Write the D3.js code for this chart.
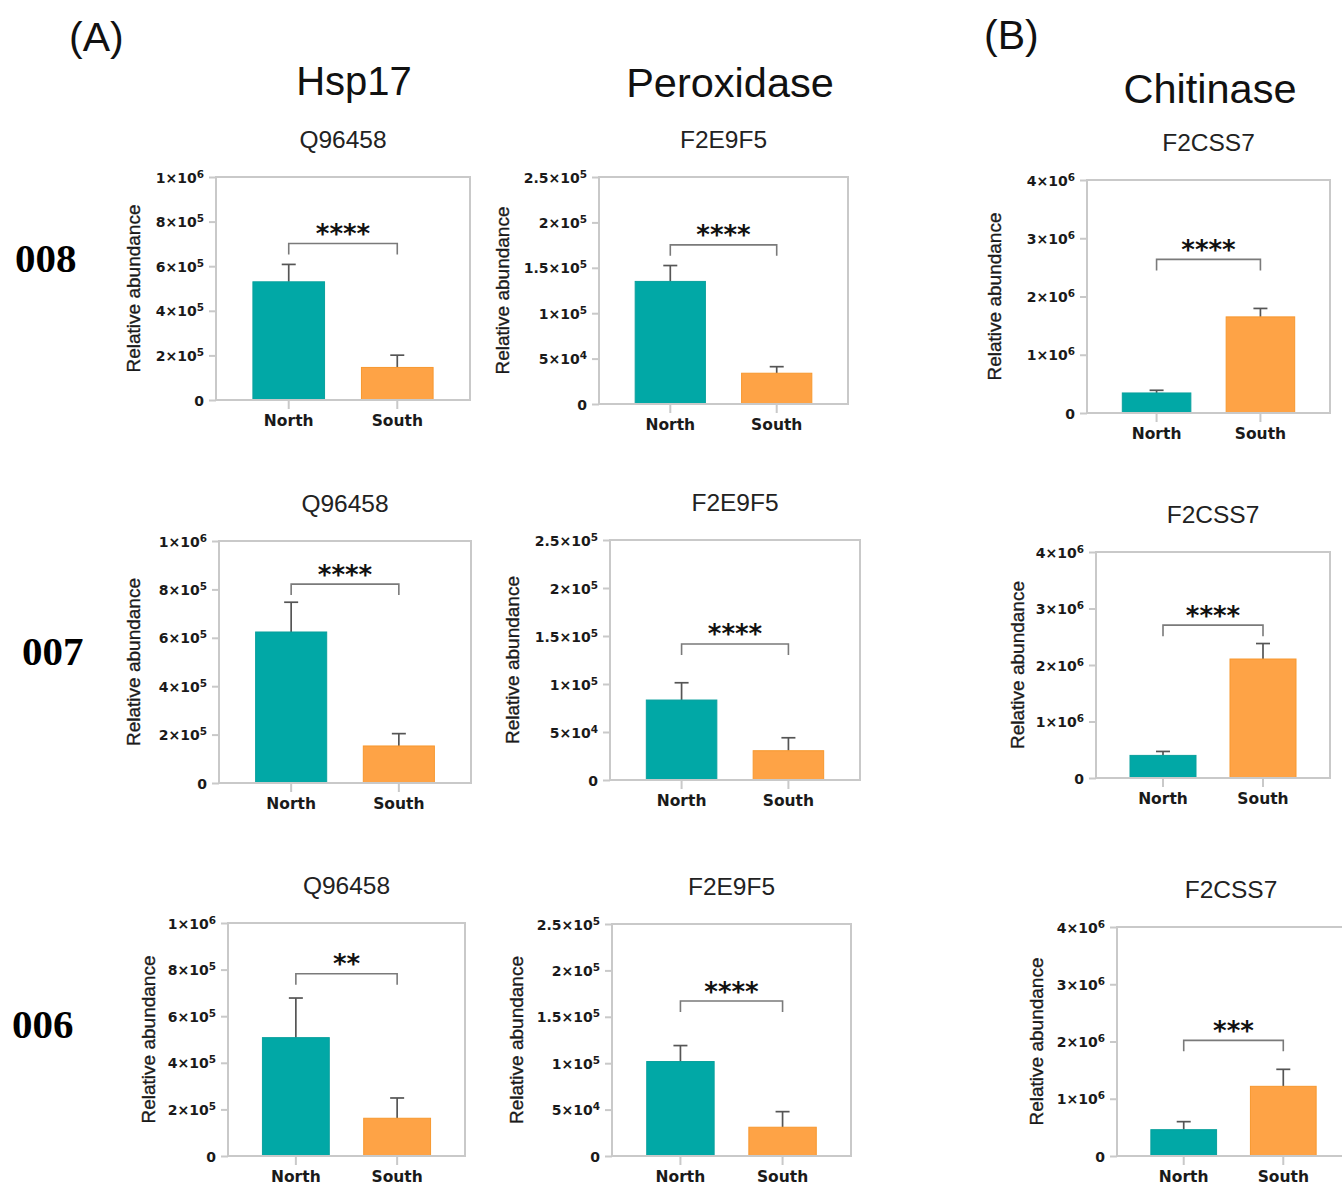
<!DOCTYPE html>
<html>
<head>
<meta charset="utf-8">
<script src="https://cdn.jsdelivr.net/npm/d3@7"></script>
<style>
  body { margin: 0; background: #fff; }
  svg { display: block; }
</style>
</head>
<body>
<div id="fig"></div>
<script>
// ---- data ----
const rowLabels = ["008", "007", "006"];
const geneNames = ["Hsp17", "Peroxidase", "Chitinase"];
const proteinIds = ["Q96458", "F2E9F5", "F2CSS7"];
const groups = ["North", "South"];

const yMaxByCol = [1e6, 2.5e5, 4e6];
const yTicksByCol = [
  [0, 2e5, 4e5, 6e5, 8e5, 1e6],
  [0, 5e4, 1e5, 1.5e5, 2e5, 2.5e5],
  [0, 1e6, 2e6, 3e6, 4e6]
];

// rows = 008, 007, 006 ; cols = Hsp17, Peroxidase, Chitinase
const northMean = [[530000, 135000, 344000], [624000, 83300, 400000], [508000, 101800, 460000]];
const northSD   = [[78000, 17500, 46000],    [123000, 18000, 70000],  [170000, 17200, 140000]];
const southMean = [[146000, 33900, 1650000], [153000, 30500, 2106000], [162000, 31000, 1217000]];
const southSD   = [[55000, 7200, 145000],    [51000, 13500, 274000],   [87000, 16800, 297000]];

const stars = [["****", "****", "****"], ["****", "****", "****"], ["**", "****", "***"]];
const bracketLevel = [[702000, 175300, 2637000], [822000, 141700, 2705000], [782000, 167000, 2020000]];

// ---- layout ----
const W = 1342, H = 1189;
// plot box [left, top, right, bottom] per panel
const panelBoxes = [
  [[216, 177, 470, 400], [599, 177, 848, 404], [1087, 180, 1330, 413]],
  [[219, 541, 471, 783], [610, 540, 860, 780], [1096, 552, 1330, 778]],
  [[228, 923, 465, 1156], [612, 924, 851, 1156], [1117, 927, 1350, 1156]]
];
const yLabelOffset = [[83, 97, 93], [86, 98, 79], [80, 96, 81]];
const rowLabelPos = [[15, 272], [22, 665], [12, 1038]];

const teal = "#01a8a6", orange = "#fea346", frameGrey = "#c9c9c9";
const sansFont = "'Liberation Sans', Arial, sans-serif";
const boldFont = "'DejaVu Sans', sans-serif";

const svg = d3.select("#fig").append("svg")
  .attr("width", W)
  .attr("height", H)
  .style("background", "#fff");

// headers
const headers = [
  {t: "(A)", x: 69, y: 51, a: "start", s: 41},
  {t: "(B)", x: 984, y: 49, a: "start", s: 41},
  {t: geneNames[0], x: 354, y: 95, a: "middle", s: 40},
  {t: geneNames[1], x: 730, y: 97, a: "middle", s: 41.5},
  {t: geneNames[2], x: 1210, y: 103, a: "middle", s: 41.5}
];
svg.selectAll("text.header")
  .data(headers)
  .join("text")
  .attr("class", "header")
  .attr("x", d => d.x)
  .attr("y", d => d.y)
  .attr("text-anchor", d => d.a)
  .style("font-family", sansFont)
  .style("font-size", d => d.s + "px")
  .style("fill", "#111")
  .text(d => d.t);

svg.selectAll("text.rowlab")
  .data(rowLabels)
  .join("text")
  .attr("class", "rowlab")
  .attr("x", (d, i) => rowLabelPos[i][0])
  .attr("y", (d, i) => rowLabelPos[i][1])
  .style("font-family", "'Liberation Serif', 'Times New Roman', serif")
  .style("font-weight", "bold")
  .style("font-size", "41px")
  .style("fill", "#000")
  .text(d => d);

function sciLabel(sel) {
  sel.each(function(v) {
    const t = d3.select(this);
    t.text(null);
    if (v === 0) { t.text("0"); return; }
    const e = Math.floor(Math.log10(v) + 1e-9);
    const m = d3.format("~g")(v / Math.pow(10, e));
    t.append("tspan").text(m + "\u00d710");
    t.append("tspan").attr("dy", "-5").style("font-size", "10.5px").text(e);
  });
}

function drawPanel(r, c) {
  const [x0, y0, x1, y1] = panelBoxes[r][c];
  const g = svg.append("g");

  const x = d3.scaleBand().domain(groups).range([x0, x1])
    .paddingInner(0.34).paddingOuter(0.34);
  const y = d3.scaleLinear().domain([0, yMaxByCol[c]]).range([y1, y0]);

  const bars = [
    {grp: "North", mean: northMean[r][c], sd: northSD[r][c], fill: teal, stroke: "#0aa09d"},
    {grp: "South", mean: southMean[r][c], sd: southSD[r][c], fill: orange, stroke: "#f7982f"}
  ];

  // title
  g.append("text")
    .attr("x", (x0 + Math.min(x1, 1345)) / 2)
    .attr("y", y0 - 29)
    .attr("text-anchor", "middle")
    .style("font-family", sansFont)
    .style("font-size", "24.5px")
    .style("fill", "#222")
    .text(proteinIds[c]);

  // y label
  g.append("text")
    .attr("transform", `translate(${x0 - yLabelOffset[r][c] + 7},${(y0 + y1) / 2}) rotate(-90)`)
    .attr("text-anchor", "middle")
    .style("font-family", sansFont)
    .style("font-size", "19px")
    .style("fill", "#1a1a1a")
    .style("stroke", "#1a1a1a")
    .style("stroke-width", 0.35)
    .text("Relative abundance");

  // error bars
  const eb = g.selectAll("g.err").data(bars).join("g").attr("class", "err")
    .attr("stroke", "#555").attr("stroke-width", 1.7).attr("fill", "none");
  eb.append("line")
    .attr("x1", d => x(d.grp) + x.bandwidth() / 2)
    .attr("x2", d => x(d.grp) + x.bandwidth() / 2)
    .attr("y1", d => y(d.mean))
    .attr("y2", d => y(d.mean + d.sd));
  eb.append("line")
    .attr("x1", d => x(d.grp) + x.bandwidth() / 2 - 7)
    .attr("x2", d => x(d.grp) + x.bandwidth() / 2 + 7)
    .attr("y1", d => y(d.mean + d.sd))
    .attr("y2", d => y(d.mean + d.sd));

  // bars
  g.selectAll("rect.bar").data(bars).join("rect")
    .attr("class", "bar")
    .attr("x", d => x(d.grp))
    .attr("width", x.bandwidth())
    .attr("y", d => y(d.mean))
    .attr("height", d => y(0) - y(d.mean))
    .attr("fill", d => d.fill)
    .attr("stroke", d => d.stroke)
    .attr("stroke-width", 1);

  // frame
  g.append("rect")
    .attr("x", x0).attr("y", y0)
    .attr("width", x1 - x0).attr("height", y1 - y0)
    .attr("fill", "none")
    .attr("stroke", frameGrey)
    .attr("stroke-width", 2);

  // y axis
  const ya = g.append("g")
    .attr("transform", `translate(${x0},0)`)
    .call(d3.axisLeft(y).tickValues(yTicksByCol[c]).tickSize(7).tickPadding(5));
  ya.select(".domain").remove();
  ya.selectAll(".tick line").attr("stroke", frameGrey).attr("stroke-width", 2);
  ya.selectAll(".tick text")
    .attr("dy", "0.36em")
    .style("font-family", boldFont)
    .style("font-weight", "bold")
    .style("font-size", "14px")
    .style("fill", "#1a1a1a")
    .call(sciLabel);

  // x axis
  const xa = g.append("g")
    .attr("transform", `translate(0,${y1})`)
    .call(d3.axisBottom(x).tickSize(9).tickPadding(6));
  xa.select(".domain").remove();
  xa.selectAll(".tick line").attr("stroke", frameGrey).attr("stroke-width", 2);
  xa.selectAll(".tick text")
    .style("font-family", boldFont)
    .style("font-weight", "bold")
    .style("font-size", "15.5px")
    .style("fill", "#1a1a1a");

  // significance bracket
  const cxN = x("North") + x.bandwidth() / 2;
  const cxS = x("South") + x.bandwidth() / 2;
  const by = y(bracketLevel[r][c]);
  g.append("path")
    .attr("d", d3.line()([[cxN, by + 11], [cxN, by], [cxS, by], [cxS, by + 11]]))
    .attr("fill", "none")
    .attr("stroke", "#7a7a7a")
    .attr("stroke-width", 1.6);
  g.append("text")
    .attr("x", (cxN + cxS) / 2)
    .attr("y", by - 16 + 15.5)
    .attr("text-anchor", "middle")
    .style("font-family", boldFont)
    .style("font-weight", "bold")
    .style("font-size", "26px")
    .style("fill", "#111")
    .text(stars[r][c]);
}

for (let r = 0; r < 3; r++) {
  for (let c = 0; c < 3; c++) drawPanel(r, c);
}
</script>
</body>
</html>
